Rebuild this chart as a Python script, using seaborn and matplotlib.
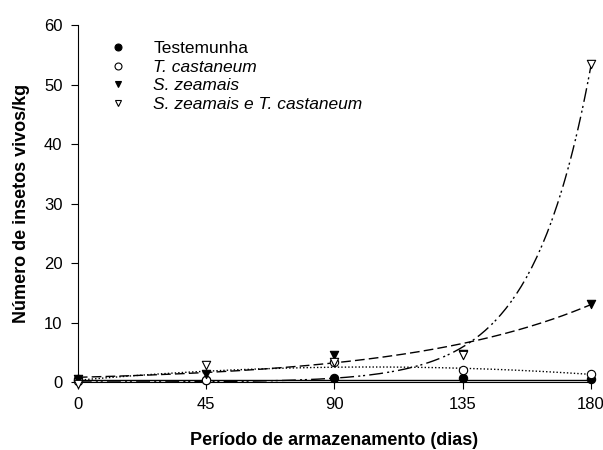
import numpy as np
import pandas as pd
import seaborn as sns
import matplotlib.pyplot as plt
from matplotlib.lines import Line2D

# dados
dias = [0, 45, 90, 135, 180]
testemunha = [0.5, 0.3, 0.6, 0.6, 0.5]
t_castaneum = [0.2, 0.3, 3.3, 2.0, 1.3]
s_zeamais = [0.5, 1.3, 4.5, 4.7, 13.1]
s_zea_t_cast = [-0.3, 2.8, 3.4, 4.6, 53.5]

# parametros das curvas ajustadas
testemunha_nivel = 0.35
t_cast_poly = [-0.00021, 0.0433, 0.3]    # a*x^2 + b*x + c
s_zea_exp = [0.8, 0.0155]                # a*exp(b*x)
s_zea_t_exp = [0.008, 0.0489]            # a*exp(b*x)

nomes = ["Testemunha", "T. castaneum", "S. zeamais", "S. zeamais e T. castaneum"]

pts = pd.DataFrame({
    "dias": dias * 4,
    "valor": testemunha + t_castaneum + s_zeamais + s_zea_t_cast,
    "grupo": sum([[n] * len(dias) for n in nomes], []),
})

xx = np.linspace(0, 180, 200)
curvas = pd.DataFrame({
    "dias": np.tile(xx, 4),
    "valor": np.concatenate([
        np.full_like(xx, testemunha_nivel),
        np.polyval(t_cast_poly, xx),
        s_zea_exp[0] * np.exp(s_zea_exp[1] * xx),
        s_zea_t_exp[0] * np.exp(s_zea_t_exp[1] * xx),
    ]),
    "grupo": np.repeat(nomes, len(xx)),
})

sns.set_style("ticks")
plt.rcParams["font.family"] = ["Liberation Sans", "DejaVu Sans"]
for k in ["text.color", "axes.labelcolor", "xtick.color", "ytick.color",
          "axes.edgecolor"]:
    plt.rcParams[k] = "black"

fig = plt.figure(figsize=(6.03, 4.5), dpi=100)
ax = fig.add_axes([0.129, 0.151, 0.851, 0.793])

estilos = {
    "Testemunha": (0, ()),
    "T. castaneum": (0, (1, 1.5)),
    "S. zeamais": (0, (7, 3)),
    "S. zeamais e T. castaneum": (0, (10, 3, 1.5, 2, 1.5, 3)),
}
for n in nomes:
    sub = curvas[curvas["grupo"] == n]
    sns.lineplot(data=sub, x="dias", y="valor", ax=ax, color="black",
                 linewidth=1.0, linestyle=estilos[n], legend=False)

marcadores = {
    "Testemunha": ("o", "black"),
    "T. castaneum": ("o", "white"),
    "S. zeamais": ("v", "black"),
    "S. zeamais e T. castaneum": ("v", "white"),
}
for n in nomes:
    sub = pts[pts["grupo"] == n]
    m, fc = marcadores[n]
    sns.scatterplot(data=sub, x="dias", y="valor", ax=ax, marker=m,
                    color=fc, edgecolor="black", linewidth=0.8, s=36,
                    zorder=5, clip_on=False, legend=False)

ax.set_xlim(0, 180)
ax.set_ylim(0, 60)
ax.set_xticks(dias)
ax.set_yticks(range(0, 61, 10))
ax.tick_params(labelsize=12, direction="out", length=5, width=0.8, pad=6)
sns.despine(ax=ax)
for s in ["left", "bottom"]:
    ax.spines[s].set_linewidth(0.8)
ax.set_xlabel("Período de armazenamento (dias)", fontsize=13,
              fontweight="bold", labelpad=14)
ax.set_ylabel("Número de insetos vivos/kg", fontsize=13,
              fontweight="bold", labelpad=10)

handles = []
for n in nomes:
    m, fc = marcadores[n]
    handles.append(Line2D([], [], marker=m, linestyle="none",
                          markerfacecolor=fc, markeredgecolor="black",
                          markersize=5, markeredgewidth=0.8))
leg = ax.legend(handles, nomes, loc="upper left", bbox_to_anchor=(0.015, 1.0),
                frameon=False, fontsize=12.5, handletextpad=1.0,
                labelspacing=0.2)
for i, t in enumerate(leg.get_texts()):
    t.set_color("black")
    if i > 0:
        t.set_fontstyle("italic")

fig.savefig("out.png", dpi=100)
